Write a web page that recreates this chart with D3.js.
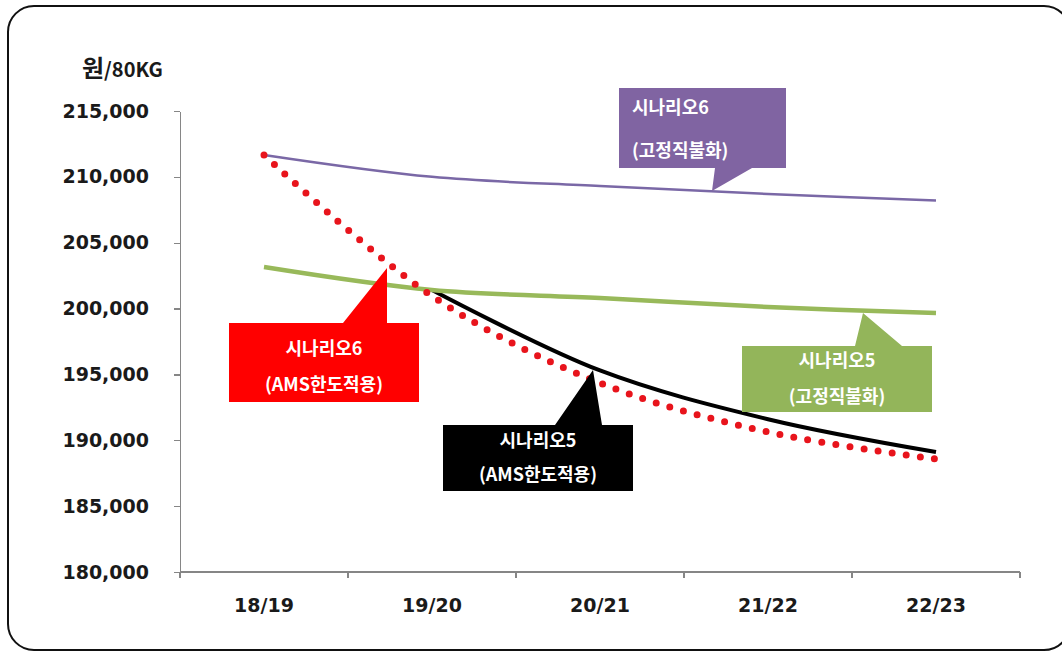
<!DOCTYPE html>
<head>
<meta charset="utf-8">
<title>시나리오별 쌀값 전망</title>
<script src="https://cdn.jsdelivr.net/npm/d3@7"></script>
<style>
body { margin: 0; background: #fff; }
.axis text { font: bold 19px "DejaVu Sans", sans-serif; fill: #1a1a1a; }
.axis path, .axis line { fill: none; stroke: #868686; stroke-width: 1.3; shape-rendering: crispEdges; }
.callout text { font: bold 18px "Noto Sans CJK KR", sans-serif; fill: #fff; }
</style>
</head>
<body>
<script>
// 연도 (x축)
var years = ["18/19", "19/20", "20/21", "21/22", "22/23"];
var yTicks = [180000, 185000, 190000, 195000, 200000, 205000, 210000, 215000];

// 시리즈 값 (원/80KG), 그림에서 읽은 값
var s6fixed = [211660, 210000, 209300, 208700, 208200];   // 시나리오6 (고정직불화)
var s5fixed = [203150, 201410, 200800, 200120, 199660];   // 시나리오5 (고정직불화)
var s5ams   = [null,   201410, 195300, 191600, 189110];   // 시나리오5 (AMS한도적용), 18/19는 초록선 아래
var s6ams   = [211660, 200950, 194350, 190630, 188580];   // 시나리오6 (AMS한도적용)

var W = 1062, H = 653;
var svg = d3.select("body").append("svg")
    .attr("width", W)
    .attr("height", H);

// rounded frame
svg.append("rect")
    .attr("x", 8).attr("y", 6)
    .attr("width", 1062).attr("height", 644)
    .attr("rx", 26).attr("ry", 26)
    .style("fill", "none").style("stroke", "#111").style("stroke-width", 2);

var x = d3.scaleBand().domain(years).range([180, 1020]);
var y = d3.scaleLinear().domain([180000, 215000]).range([572, 111]);
var cx = function(i) { return x(years[i]) + x.bandwidth() / 2; };

// y axis
svg.append("g").attr("class", "axis")
    .attr("transform", "translate(180,0)")
    .call(d3.axisLeft(y).tickValues(yTicks).tickSize(6).tickSizeOuter(0)
        .tickPadding(25).tickFormat(d3.format(",")));

// x axis: ticks at band edges, labels in band centres
var xAxis = svg.append("g").attr("class", "axis")
    .attr("transform", "translate(0,572)");
xAxis.append("line").attr("x1", 180).attr("x2", 1020).attr("y1", 0).attr("y2", 0);
xAxis.selectAll(".edge").data(years.concat(["end"])).enter().append("line")
    .attr("x1", function(d, i) { return x.range()[0] + i * x.bandwidth(); })
    .attr("x2", function(d, i) { return x.range()[0] + i * x.bandwidth(); })
    .attr("y1", 0).attr("y2", 6);
xAxis.selectAll(".lab").data(years).enter().append("text")
    .attr("x", function(d) { return x(d) + x.bandwidth() / 2; })
    .attr("y", 40)
    .attr("text-anchor", "middle")
    .text(function(d) { return d; });

// unit label
var unit = svg.append("text").attr("x", 82).attr("y", 77)
    .style("font-family", "'Noto Sans CJK KR', sans-serif").style("font-weight", "bold").style("fill", "#1a1a1a");
unit.append("tspan").style("font-size", "24px").text("원");
unit.append("tspan").style("font-size", "20px").text("/80KG");

// lines
var smooth = d3.line()
    .defined(function(d) { return d != null; })
    .x(function(d, i) { return cx(i); })
    .y(function(d) { return y(d); })
    .curve(d3.curveCatmullRom.alpha(0.5));

svg.append("path").attr("d", smooth(s6fixed))
    .style("fill", "none").style("stroke", "#7a68a6").style("stroke-width", 2.5);
svg.append("path").attr("d", smooth(s5ams))
    .style("fill", "none").style("stroke", "#000").style("stroke-width", 4);
svg.append("path").attr("d", smooth(s5fixed))
    .style("fill", "none").style("stroke", "#98b95a").style("stroke-width", 4.5);
svg.append("path").attr("d", smooth(s6ams))
    .style("fill", "none").style("stroke", "#e8141c").style("stroke-width", 7)
    .style("stroke-linecap", "round").style("stroke-dasharray", "0 14.2");

// callouts: box [x0, y0, x1, y1], pointer base [bx0, bx1] and tip [tx, ty]
var callouts = [
    { fill: "#8064a2", box: [619, 88, 786, 168], base: [715, 752], tip: [712, 191], anchor: "start", tx: 632,
      lines: ["시나리오6", "(고정직불화)"], ly: [114, 157] },
    { fill: "#ff0000", box: [229, 323, 419, 402], base: [343, 387], tip: [387, 268], anchor: "middle", tx: 324,
      lines: ["시나리오6", "(AMS한도적용)"], ly: [355, 391] },
    { fill: "#000000", box: [443, 425, 633, 491], base: [555, 602], tip: [593, 370], anchor: "middle", tx: 538,
      lines: ["시나리오5", "(AMS한도적용)"], ly: [447, 481] },
    { fill: "#93b55a", box: [742, 346, 932, 412], base: [855, 902], tip: [863, 313], anchor: "middle", tx: 837,
      lines: ["시나리오5", "(고정직불화)"], ly: [367, 403] }
];

var co = svg.selectAll(".callout").data(callouts).enter().append("g").attr("class", "callout");
co.append("path")
    .attr("d", function(d) {
        var b = d.box;
        var pointsUp = d.tip[1] < b[1];
        var edge = pointsUp ? b[1] : b[3];
        var p = d3.path();
        if (pointsUp) {
            p.moveTo(b[0], b[1]); p.lineTo(d.base[0], edge); p.lineTo(d.tip[0], d.tip[1]);
            p.lineTo(d.base[1], edge); p.lineTo(b[2], b[1]); p.lineTo(b[2], b[3]); p.lineTo(b[0], b[3]);
        } else {
            p.moveTo(b[0], b[1]); p.lineTo(b[2], b[1]); p.lineTo(b[2], b[3]); p.lineTo(d.base[1], edge);
            p.lineTo(d.tip[0], d.tip[1]); p.lineTo(d.base[0], edge); p.lineTo(b[0], b[3]);
        }
        p.closePath();
        return p.toString();
    })
    .style("fill", function(d) { return d.fill; });
co.each(function(d) {
    var g = d3.select(this);
    d.lines.forEach(function(t, i) {
        g.append("text").attr("x", d.tx).attr("y", d.ly[i])
            .attr("text-anchor", d.anchor).text(t);
    });
});
</script>
</body>
